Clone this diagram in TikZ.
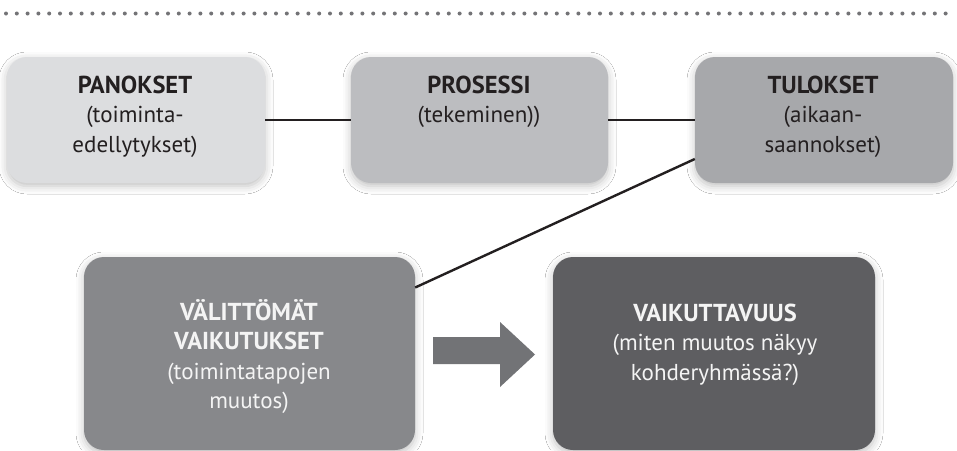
\documentclass[tikz,border=0pt]{standalone}
\usepackage{fontspec}
\setmainfont{PT Sans}
\usetikzlibrary{shadows.blur}
\definecolor{cA}{HTML}{DCDDDF}
\definecolor{cB}{HTML}{BCBDC0}
\definecolor{cC}{HTML}{A7A8AB}
\definecolor{cD}{HTML}{87888B}
\definecolor{cE}{HTML}{5E5E61}
\definecolor{cArrow}{HTML}{727376}
\definecolor{cDots}{HTML}{737376}
\definecolor{cInk}{HTML}{231F20}
\definecolor{cWhite}{HTML}{F4F4F4}
\newcommand{\headtxt}[1]{{\fontsize{24.5}{29.5}\selectfont\bfseries #1}}
\begin{document}
\begin{tikzpicture}[x=1pt,y=-1pt,
  box/.style={rounded corners=20pt, inner sep=0pt, draw=none,
    blur shadow={shadow xshift=0pt, shadow yshift=-3pt, shadow blur radius=8pt, shadow opacity=25}},
  topbox/.style={box, minimum width=258pt, minimum height=126pt},
  txt/.style={align=center, anchor=base, inner sep=0pt, font=\fontsize{23}{29.5}\selectfont},
  dark/.style={txt, text=cInk},
  light/.style={txt, text=cWhite},
  link/.style={draw=cInk, line width=2.4pt}]
\useasboundingbox (0,0) rectangle (957,450);
\fill[white] (0,0) rectangle (957,450);
% dotted rule
\draw[cDots, line width=4pt, line cap=round, dash pattern=on 0pt off 10.8pt] (6,13.5) -- (953,13.5);
% boxes
\node[topbox, fill=cA] (b1) at (136,120) {};
\node[topbox, fill=cB, minimum width=257pt] (b2) at (479.5,120) {};
\node[topbox, fill=cC] (b3) at (824,120) {};
\node[box, fill=cD, minimum width=331pt, minimum height=193pt] (b4) at (249.5,353.5) {};
\node[box, fill=cE, minimum width=322pt, minimum height=193pt] (b5) at (714,353.5) {};
% connectors
\draw[link] (b1) -- (b2);
\draw[link] (b2) -- (b3);
\draw[link] ([yshift=-39pt]b3.west) -- ([yshift=66pt]b4.east);
% arrow
\fill[cArrow] (433,337) -- (500,337) -- (500,322) -- (535,354.5) -- (500,387) -- (500,364) -- (433,364) -- cycle;
% texts (anchor base = baseline of the last line)
\node[dark] (t1) at (135,152) {\headtxt{PANOKSET}\\(toiminta-\\edellytykset)};
\node[dark] (t2) at (479,122.5) {\headtxt{PROSESSI}\\(tekeminen))};
\node[dark] (t3) at (823,152) {\headtxt{TULOKSET}\\(aikaan-\\saannokset)};
\node[light] (t4) at (249,408.5) {\headtxt{VÄLITTÖMÄT}\\\headtxt{VAIKUTUKSET}\\(toimintatapojen\\muutos)};
\node[light] (t5) at (715,380) {\headtxt{VAIKUTTAVUUS}\\(miten muutos näkyy\\kohderyhmässä?)};
\end{tikzpicture}
\end{document}
